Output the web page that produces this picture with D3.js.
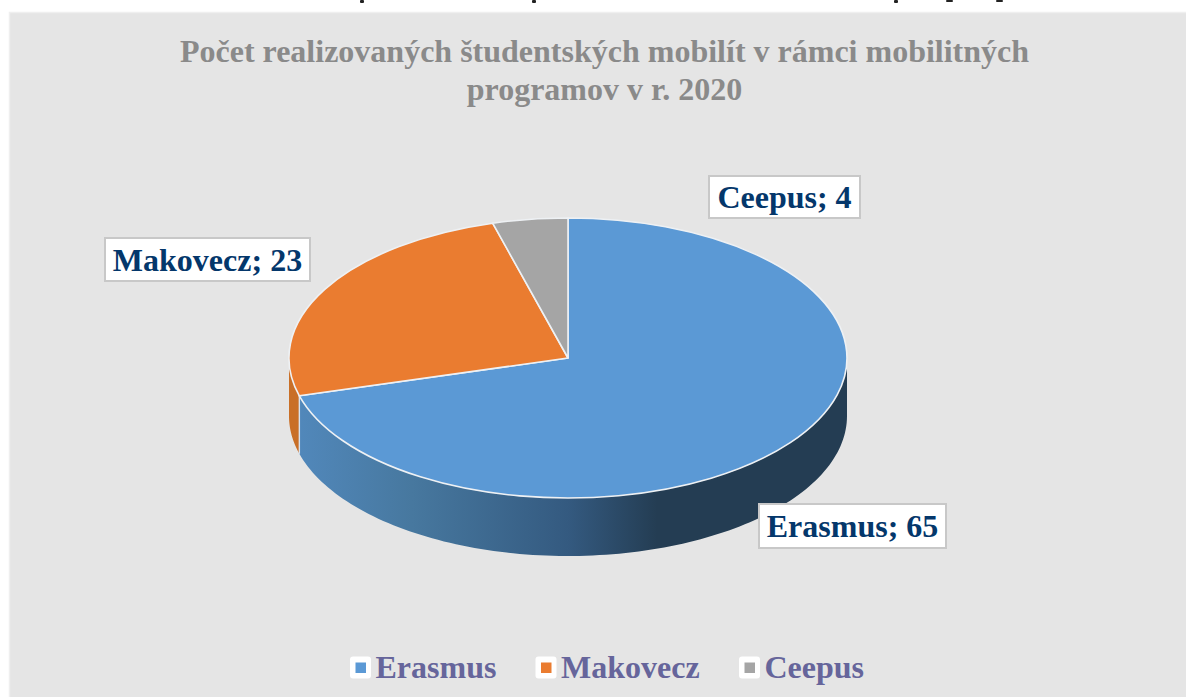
<!DOCTYPE html>
<html lang="sk">
<head>
<meta charset="utf-8">
<script src="https://cdn.jsdelivr.net/npm/d3@7/dist/d3.min.js"></script>
<style>
html,body{margin:0;padding:0;background:#fff;overflow:hidden}
svg{display:block}
text{font-family:"Liberation Serif",serif;font-weight:700}
</style>
</head>
<body>
<script>
const categories = ["Erasmus", "Makovecz", "Ceepus"];
const values = [65, 23, 4];
const titleLines = ["Počet realizovaných študentských mobilít v rámci mobilitných", "programov v r. 2020"];

// Ink fragments of the unreadable page line cropped off above the chart
const cropInk = [
  {x: 360, w: 4, h: 3}, {x: 532, w: 4, h: 3}, {x: 894, w: 4, h: 3},
  {x: 946, w: 7, h: 2}, {x: 996, w: 7, h: 2}
];
const colors = ["#5b99d5", "#ea7c30", "#a5a5a5"];
const W = 1186, H = 697;
const cx = 568, cy = 358, rx = 279, ry = 140, depth = 58;
const labelBoxes = [
  {x: 759, y: 504, w: 187, h: 44},
  {x: 105, y: 238, w: 205, h: 43},
  {x: 709, y: 176, w: 151, h: 42}
];

const svg = d3.select("body").append("svg").attr("width", W).attr("height", H);
const defs = svg.append("defs");

svg.append("g").selectAll("rect").data(cropInk).join("rect")
  .attr("x", d => d.x).attr("y", 0).attr("width", d => d.w).attr("height", d => d.h)
  .attr("rx", 1).attr("fill", "#222");

svg.append("rect").attr("x", 9.5).attr("y", 12.5).attr("width", W).attr("height", H)
  .attr("fill", "#e5e5e5").attr("stroke", "#efefef").attr("stroke-width", 1.5);

svg.append("g").selectAll("text").data(titleLines).join("text")
  .attr("x", 604.5).attr("y", (d, i) => 62 + i * 38)
  .attr("text-anchor", "middle").attr("font-size", 32).attr("fill", "#8a8a8a")
  .text(d => d);

const pie = d3.pie().sort(null).value(d => d)(values);
const px = a => cx + rx * Math.sin(a);
const py = a => cy - ry * Math.cos(a);

// walls
const grad = defs.append("linearGradient").attr("id", "wall").attr("gradientUnits", "userSpaceOnUse")
  .attr("x1", cx - rx).attr("x2", cx + rx).attr("y1", 0).attr("y2", 0);
[[0, "#5289bd"], [0.22, "#47789f"], [0.5, "#345a80"], [0.66, "#243d53"], [1, "#243d53"]]
  .forEach(([o, c]) => grad.append("stop").attr("offset", o).attr("stop-color", c));

function wallPath(a0, a1) {
  const p = d3.path(), steps = d3.range(0, 121).map(i => a0 + (a1 - a0) * i / 120);
  steps.forEach((a, i) => i ? p.lineTo(px(a), py(a)) : p.moveTo(px(a), py(a)));
  steps.slice().reverse().forEach(a => p.lineTo(px(a), py(a) + depth));
  p.closePath();
  return p.toString();
}
const walls = svg.append("g");
const visibleEnd = 3 * Math.PI / 2;
pie.forEach((s, i) => {
  const a0 = Math.max(s.startAngle, Math.PI / 2), a1 = Math.min(s.endAngle, visibleEnd);
  if (a1 <= a0) return;
  walls.append("path").attr("d", wallPath(a0, a1))
    .attr("fill", i === 0 ? "url(#wall)" : "#c96f27");
});
// seam between the front walls
const seam = pie[0].endAngle;
walls.append("line").attr("x1", px(seam)).attr("x2", px(seam))
  .attr("y1", py(seam)).attr("y2", py(seam) + depth)
  .attr("stroke", "#d6e2ee").attr("stroke-width", 1.4);

// top face
const arc = d3.arc().innerRadius(0).outerRadius(1);
svg.append("g").attr("transform", `translate(${cx},${cy}) scale(${rx},${ry})`)
  .selectAll("path").data(pie).join("path")
  .attr("d", arc).attr("fill", (d, i) => colors[i])
  .attr("stroke", "#eef1f4").attr("stroke-width", 1.6)
  .attr("stroke-linejoin", "round")
  .attr("vector-effect", "non-scaling-stroke");

// data labels
const lab = svg.append("g").selectAll("g").data(categories).join("g");
lab.append("rect")
  .attr("x", (d, i) => labelBoxes[i].x).attr("y", (d, i) => labelBoxes[i].y)
  .attr("width", (d, i) => labelBoxes[i].w).attr("height", (d, i) => labelBoxes[i].h)
  .attr("fill", "#fff").attr("stroke", "#c8c8c8").attr("stroke-width", 2);
lab.append("text")
  .attr("x", (d, i) => labelBoxes[i].x + labelBoxes[i].w / 2)
  .attr("y", (d, i) => labelBoxes[i].y + labelBoxes[i].h / 2 + 11)
  .attr("text-anchor", "middle").attr("font-size", 32).attr("fill", "#04376b")
  .text((d, i) => `${d}; ${values[i]}`);

// legend
const legendX = [350, 535.5, 739];
const leg = svg.append("g").selectAll("g").data(categories).join("g")
  .attr("transform", (d, i) => `translate(${legendX[i]},656.5)`);
leg.append("rect").attr("width", 21).attr("height", 22).attr("rx", 3).attr("fill", "#fff");
leg.append("rect").attr("x", 5.5).attr("y", 6).attr("width", 10.5).attr("height", 10.5)
  .attr("fill", (d, i) => colors[i]);
leg.append("text").attr("x", 25.5).attr("y", 21).attr("font-size", 32).attr("fill", "#66659b").text(d => d);
</script>
</body>
</html>
